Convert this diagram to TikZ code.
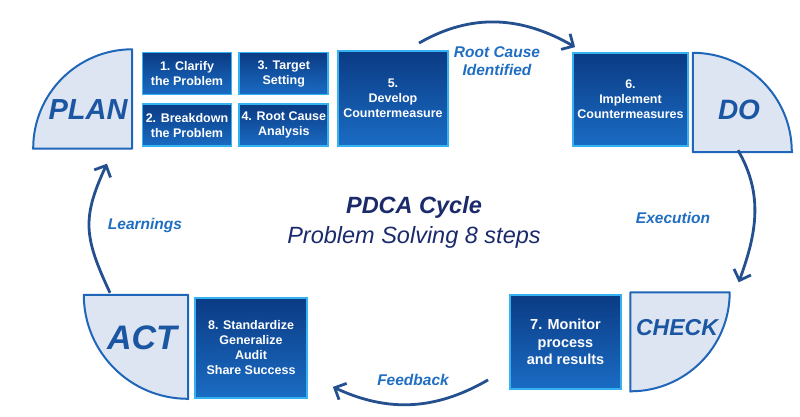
\documentclass[tikz,border=0pt]{standalone}
\usepackage{fontspec}
\setmainfont{Liberation Sans}
\usetikzlibrary{positioning,arrows.meta}
\definecolor{boxdark}{HTML}{0B3B84}
\definecolor{boxlight}{HTML}{1A6CC4}
\definecolor{boxedge}{HTML}{35B3F0}
\definecolor{quadfill}{HTML}{DDE5F2}
\definecolor{quadedge}{HTML}{1F66B8}
\definecolor{quadtext}{HTML}{1B56A3}
\definecolor{arrowblue}{HTML}{25508F}
\definecolor{labelblue}{HTML}{1F6EC2}
\definecolor{titleblue}{HTML}{1B2A6B}
\begin{document}
\begin{tikzpicture}[x=1pt, y=1pt, font=\bfseries, >={Straight Barb[length=9pt,width=18pt]}]
	\tikzstyle{task} = [rectangle, draw=boxedge, line width=1.8pt, top color=boxdark, bottom color=boxlight, text=white, align=center, inner sep=0pt, font=\fontsize{12.5}{15}\selectfont\bfseries]
	\tikzstyle{small} = [task, minimum width=89pt, minimum height=42pt]
	\tikzstyle{quad} = [rectangle, minimum width=99pt, minimum height=99pt, inner sep=0pt]
	\tikzstyle{quadshape} = [draw=quadedge, fill=quadfill, line width=2pt, line join=round]
	\tikzstyle{phase} = [text=quadtext, inner sep=0pt]
	\tikzstyle{flow} = [->, draw=arrowblue, line width=2.8pt]
	\tikzstyle{flowlabel} = [text=labelblue, align=center, font=\fontsize{15.5}{18}\selectfont\bfseries\itshape]
	\useasboundingbox (0,0) rectangle (800,416);
	\node[quad] (planq) at (82.5,317) {};
	\node[quad] (doq) at (742.5,313.5) {};
	\node[quad] (checkq) at (680,74) {};
	\node[quad, minimum width=104pt, minimum height=104pt] (actq) at (136,69) {};
	\draw[quadshape] (planq.south west) -- (planq.south east) -- (planq.north east) arc[start angle=90, end angle=180, radius=99pt] -- cycle;
	\draw[quadshape] (doq.south east) -- (doq.south west) -- (doq.north west) arc[start angle=90, end angle=0, radius=99pt] -- cycle;
	\draw[quadshape] (checkq.south west) -- (checkq.north west) -- (checkq.north east) arc[start angle=0, end angle=-90, radius=99pt] -- cycle;
	\draw[quadshape] (actq.south east) -- (actq.north east) -- (actq.north west) arc[start angle=180, end angle=270, radius=104pt] -- cycle;
	\node[phase, font=\fontsize{29}{29}\selectfont\bfseries\itshape] (plan) at (88,306) {PLAN};
	\node[phase, font=\fontsize{28}{28}\selectfont\bfseries\itshape] (do) at (739,306) {DO};
	\node[phase, font=\fontsize{23}{23}\selectfont\bfseries\itshape] (check) at (677,88) {CHECK};
	\node[phase, font=\fontsize{34}{34}\selectfont\bfseries\itshape] (act) at (142,78) {ACT};
	\node[small] (clarify) at (187,342.5) {1. Clarify\\the Problem};
	\node[small, right=6pt of clarify] (target) {3. Target\\Setting};
	\node[small, below=8pt of clarify] (breakdown) {2. Breakdown\\the Problem};
	\node[small, right=6pt of breakdown] (analysis) {4. Root Cause\\Analysis};
	\node[task, minimum width=110pt, minimum height=95pt] (develop) at (393,317.5) {5.\\Develop\\Countermeasure};
	\node[task, minimum width=115pt, minimum height=93pt] (implement) at (630.5,316.5) {6.\\Implement\\Countermeasures};
	\node[task, minimum width=111pt, minimum height=94pt, font=\fontsize{14.5}{17.5}\selectfont\bfseries] (monitor) at (565.5,74) {7. Monitor\\process\\and results};
	\node[task, minimum width=112pt, minimum height=100pt] (standardize) at (251,68) {8. Standardize\\Generalize\\Audit\\Share Success};
	\node[font=\fontsize{23.5}{30}\selectfont\itshape, text=titleblue, align=center] (title) at (414,194) {{\bfseries PDCA Cycle}\\Problem Solving 8 steps};
	\node[flowlabel] (rootlabel) at (497,355) {Root Cause\\Identified};
	\node[flowlabel] (execlabel) at (673,198) {Execution};
	\node[flowlabel] (feedlabel) at (413,36) {Feedback};
	\node[flowlabel] (learnlabel) at (145,191) {Learnings};
	\draw[flow] ([xshift=26pt,yshift=7pt]develop.north) to[out=30,in=150] ([xshift=3pt,yshift=5pt]implement.north west);
	\draw[flow] ([xshift=-4.5pt,yshift=2pt]doq.south) to[out=-60,in=70] ([xshift=9pt,yshift=10pt]checkq.north east);
	\draw[flow] ([xshift=-21pt,yshift=10pt]monitor.south west) to[out=210,in=-25] ([xshift=25pt,yshift=12pt]standardize.south east);
	\draw[flow] ([xshift=-26pt,yshift=2pt]actq.north) to[out=115,in=-115,looseness=1.2] ([xshift=24.5pt,yshift=-15pt]planq.south);
\end{tikzpicture}
\end{document}
